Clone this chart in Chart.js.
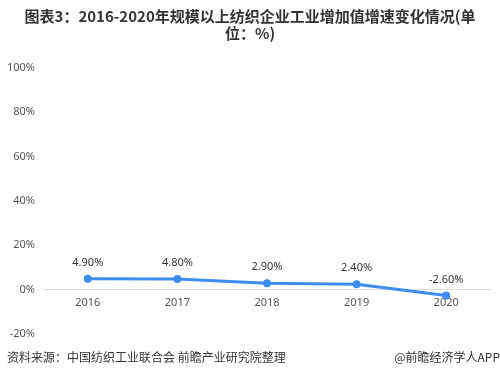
<!DOCTYPE html>
<html><head><meta charset="utf-8">
<script src="https://cdn.jsdelivr.net/npm/chart.js@4"></script>
<style>
html,body{margin:0;padding:0;background:#fff;}
#wrap{position:relative;width:500px;height:379px;overflow:hidden;font-family:"Noto Sans CJK SC","Noto Sans",sans-serif;}
#title{position:absolute;left:0;top:7px;width:500px;text-align:center;font-weight:bold;font-size:15px;line-height:17px;color:#333;}
#src{position:absolute;left:7px;top:348px;font-size:12px;color:#333;}
#app{position:absolute;right:0;top:348px;font-size:12px;color:#333;}
canvas{position:absolute;left:0;top:0;}
</style></head>
<body><div id="wrap">
<canvas id="c" width="500" height="379"></canvas>
<div id="title">图表3：2016-2020年规模以上纺织企业工业增加值增速变化情况(单<br>位：%)</div>
<div id="src">资料来源：中国纺织工业联合会 前瞻产业研究院整理</div>
<div id="app">@前瞻经济学人APP</div>
</div>
<script>
const categories = ['2016','2017','2018','2019','2020'];
const growth = [4.9, 4.8, 2.9, 2.4, -2.6];
const valueLabels = ['4.90%','4.80%','2.90%','2.40%','-2.60%'];

const labelPlugin = {
  id:'vlabels',
  afterDatasetsDraw(chart){
    const ctx = chart.ctx;
    const meta = chart.getDatasetMeta(0);
    ctx.save();
    ctx.font = '11px "Noto Sans", sans-serif';
    ctx.fillStyle = '#333';
    ctx.textAlign = 'center';
    ctx.textBaseline = 'middle';
    meta.data.forEach((pt,i)=>{
      ctx.fillText(valueLabels[i], pt.x, pt.y - 16);
    });
    ctx.restore();
  }
};

new Chart(document.getElementById('c'), {
  type:'line',
  data:{labels:categories, datasets:[{
    data:growth,
    borderColor:'#3d8ef0',
    backgroundColor:'#3d8ef0',
    borderWidth:3,
    pointRadius:4,
    pointBackgroundColor:'#3d8ef0',
    pointBorderWidth:0,
    tension:0
  }]},
  options:{
    responsive:false,
    animation:false,
    layout:{padding:{left:0,right:9,top:68,bottom:45}},
    plugins:{legend:{display:false},tooltip:{enabled:false}},
    scales:{
      x:{
        position:{y:0},
        offset:true,
        grid:{display:false,drawTicks:false,offset:true},
        border:{display:true,color:'#dddddd',width:1},
        ticks:{color:'#555',font:{size:11,family:'"Noto Sans", sans-serif'},padding:7}
      },
      y:{
        min:-20,max:100,
        grid:{display:false,drawTicks:false},
        border:{display:false},
        afterFit(s){s.width=43;},
        ticks:{stepSize:20,color:'#555',padding:8,font:{size:11,family:'"Noto Sans", sans-serif'},callback:v=>v+'%'}
      }
    }
  },
  plugins:[labelPlugin]
});
</script>
</body></html>
